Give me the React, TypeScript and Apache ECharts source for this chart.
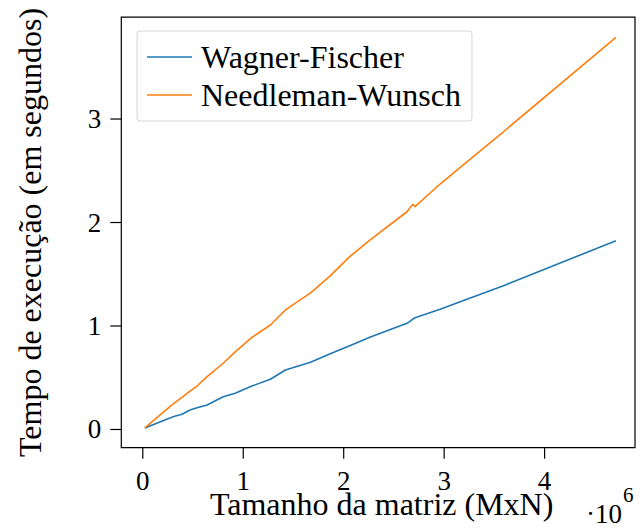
import React, { useEffect, useRef } from "react";
import * as echarts from "echarts";

const xValues = [0.02, 0.27, 0.30, 0.39, 0.47, 0.54, 0.64, 0.80, 0.92, 1.08, 1.27, 1.42, 1.67, 1.86, 2.06, 2.26, 2.63, 2.66, 2.69, 2.71, 2.96, 3.16, 3.59, 4.71];
const wagnerFischer = [0.015, 0.11, 0.124, 0.147, 0.188, 0.21, 0.237, 0.317, 0.35, 0.418, 0.485, 0.575, 0.65, 0.729, 0.81, 0.891, 1.026, 1.045, 1.068, 1.08, 1.161, 1.235, 1.389, 1.824];
const needlemanWunsch = [0.015, 0.22, 0.245, 0.31, 0.37, 0.42, 0.51, 0.64, 0.75, 0.885, 1.01, 1.155, 1.32, 1.48, 1.67, 1.83, 2.104, 2.143, 2.176, 2.153, 2.372, 2.533, 2.877, 3.789];
const xTicks = [0, 1, 2, 3, 4];
const yTicks = [0, 1, 2, 3];
const seriesNames = ["Wagner-Fischer", "Needleman-Wunsch"];
const colors = ["#1f77b4", "#ff7f0e"];

const X_MIN = -0.214;
const X_MAX = 4.9;
const Y_MIN = -0.176;
const Y_MAX = 3.984;

const FONT = "'Liberation Serif', 'Times New Roman', serif";

export default function App() {
  const ref = useRef<HTMLDivElement>(null);
  useEffect(() => {
    if (!ref.current) return;
    const chart = echarts.init(ref.current, null, { renderer: "svg" });
    const mk = (ys: number[]) => xValues.map((x, i) => [x, ys[i]]);
    const tickData = [
      ...xTicks.map((v) => [v, Y_MIN, 0]),
      ...yTicks.map((v) => [X_MIN, v, 1]),
    ];
    chart.setOption({
      animation: false,
      backgroundColor: "#fff",
      textStyle: { fontFamily: FONT },
      grid: {
        left: 121.3,
        top: 17.2,
        right: 5,
        bottom: 81.3,
        show: true,
        borderColor: "#000",
        borderWidth: 1.2,
        containLabel: false,
      },
      legend: {
        orient: "vertical",
        left: 137,
        top: 31,
        padding: [10, 11, 10, 10],
        itemGap: 6,
        itemWidth: 45,
        itemHeight: 1.6,
        borderColor: "#d6d6d6",
        borderWidth: 1,
        borderRadius: 3,
        backgroundColor: "#fff",
        textStyle: { fontFamily: FONT, fontSize: 32, color: "#000", lineHeight: 32, padding: [0, 0, 0, 4] },
        data: seriesNames.map((n) => ({ name: n, icon: "rect" })),
      },
      xAxis: {
        type: "value",
        min: X_MIN,
        max: X_MAX,
        name: "Tamanho da matriz (MxN)",
        nameLocation: "middle",
        nameGap: 40,
        nameMoveOverlap: false,
        nameTextStyle: { fontFamily: FONT, fontSize: 32, color: "#000", padding: [0, 0, 0, 7] },
        axisLine: { show: false, onZero: false },
        splitLine: { show: false },
        axisTick: { show: false },
        axisLabel: {
          fontFamily: FONT,
          fontSize: 27,
          color: "#000",
          margin: 20,
          customValues: xTicks,
          formatter: (v: number) => String(v),
        },
      },
      yAxis: {
        type: "value",
        min: Y_MIN,
        max: Y_MAX,
        name: "Tempo de execução (em segundos)",
        nameLocation: "middle",
        nameGap: 75,
        nameMoveOverlap: false,
        nameTextStyle: { fontFamily: FONT, fontSize: 32, color: "#000" },
        axisLine: { show: false, onZero: false },
        splitLine: { show: false },
        axisTick: { show: false },
        axisLabel: {
          fontFamily: FONT,
          fontSize: 27,
          color: "#000",
          margin: 20,
          customValues: yTicks,
          formatter: (v: number) => String(v),
        },
      },
      graphic: [
        {
          type: "text",
          left: 586,
          top: 500,
          style: { text: "·10", fontFamily: FONT, fontSize: 27, fill: "#000" },
        },
        {
          type: "text",
          left: 623,
          top: 484,
          style: { text: "6", fontFamily: FONT, fontSize: 21, fill: "#000" },
        },
      ],
      series: [
        {
          name: seriesNames[0],
          type: "line",
          data: mk(wagnerFischer),
          showSymbol: false,
          symbol: "none",
          color: colors[0],
          lineStyle: { color: colors[0], width: 1.6 },
        },
        {
          name: seriesNames[1],
          type: "line",
          data: mk(needlemanWunsch),
          showSymbol: false,
          symbol: "none",
          color: colors[1],
          lineStyle: { color: colors[1], width: 1.6 },
        },
        {
          name: "ticks",
          type: "custom",
          clip: false,
          silent: true,
          z: 5,
          data: tickData,
          renderItem: (params: any, api: any) => {
            const kind = api.value(2);
            const p = api.coord([api.value(0), api.value(1)]);
            if (kind === 0) {
              return {
                type: "line",
                shape: { x1: p[0], y1: p[1], x2: p[0], y2: p[1] + 11 },
                style: { stroke: "#000", lineWidth: 1.2 },
              };
            }
            return {
              type: "line",
              shape: { x1: p[0] - 11, y1: p[1], x2: p[0], y2: p[1] },
              style: { stroke: "#000", lineWidth: 1.2 },
            };
          },
        },
      ],
    });
    return () => chart.dispose();
  }, []);
  return <div ref={ref} style={{ position: "absolute", left: 0, top: 0, width: 640, height: 529 }} />;
}
